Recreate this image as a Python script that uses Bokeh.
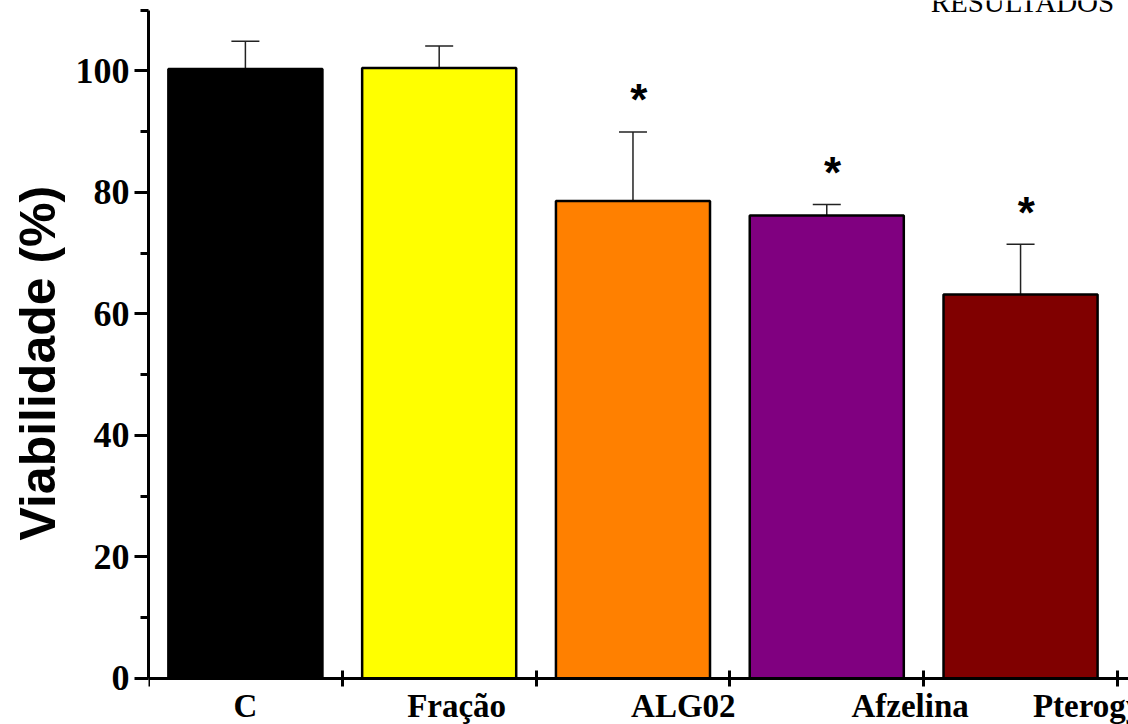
import math
from bokeh.plotting import figure
from bokeh.models import (Range1d, FixedTicker, Whisker, TeeHead, ColumnDataSource,
                          Label, Title)
from bokeh.core.properties import value
from bokeh.embed import file_html
from bokeh.resources import INLINE

# ---- data ----
categories = ["C", "Fração", "ALG02", "Afzelina", "Pterogynidina"]
means = [100.3, 100.5, 78.6, 76.2, 63.2]
sds = [4.6, 3.6, 11.35, 1.8, 8.25]
significant = [False, False, True, True, True]
bar_colors = ["#000000", "#FFFF00", "#FF8000", "#800080", "#800000"]
y_ticks = [0, 20, 40, 60, 80, 100]
y_minor_ticks = [10, 30, 50, 70, 90, 110]
y_title = "Viabilidade (%)"
header = "RESULTADOS"

# ---- layout helpers ----
xc = [i + 0.5 for i in range(len(categories))]
upper = [m + s for m, s in zip(means, sds)]

src = ColumnDataSource(dict(x=xc, mean=means, upper=upper, color=bar_colors))

p = figure(width=1128, height=724,
           x_range=Range1d(0, 5.057), y_range=Range1d(-7.62, 111.6),
           output_backend="svg", toolbar_location=None,
           min_border_left=147, min_border_right=0,
           min_border_top=0, min_border_bottom=0,
           background_fill_color="white", border_fill_color="white")
p.outline_line_color = None
p.xgrid.visible = False
p.ygrid.visible = False

# y axis
ya = p.yaxis[0]
ya.bounds = (0, 110)
ya.ticker = FixedTicker(ticks=y_ticks, minor_ticks=y_minor_ticks)
ya.axis_line_width = 3
ya.major_tick_line_width = 3
ya.minor_tick_line_width = 3
ya.major_tick_out = 14
ya.major_tick_in = 0
ya.minor_tick_out = 8
ya.minor_tick_in = 0
ya.major_label_standoff = 5
ya.major_label_text_font = "Liberation Serif"
ya.major_label_text_font_style = "bold"
ya.major_label_text_font_size = "36px"
ya.major_label_text_color = "black"

# y title as a side title
p.add_layout(Title(text=y_title, align="left", offset=184, standoff=14,
                   text_font="Liberation Sans", text_font_style="bold",
                   text_font_size="50px", text_color="black"), "left")

# x axis: fixed at y = 0, ticks at category boundaries
xa = p.xaxis[0]
xa.fixed_location = 0
xa.ticker = FixedTicker(ticks=list(range(len(categories) + 1)), minor_ticks=[])
xa.axis_line_width = 3
xa.major_tick_line_width = 3
xa.major_tick_in = 8
xa.major_tick_out = 8
xa.minor_tick_line_color = None
xa.major_label_overrides = {i: "" for i in range(len(categories) + 1)}
xa.major_label_text_font_size = "0px"
xa.major_label_standoff = 0

# bars
p.vbar(x="x", top="mean", bottom=0, width=0.795, fill_color="color",
       line_color="black", line_width=2.5, source=src)

# error bars (upper only)
p.add_layout(Whisker(source=src, base="x", lower="mean", upper="upper",
                     dimension="height", line_width=1.5, line_color="#222222",
                     upper_head=TeeHead(size=28, line_width=1.5, line_color="#222222"),
                     lower_head=None))

# significance asterisks
ax = [x + 0.03 for x, s in zip(xc, significant) if s]
ay = [u + 5.3 for u, s in zip(upper, significant) if s]
p.text(x=ax, y=ay, text=["*"] * len(ax), text_font=value("Liberation Sans"),
       text_font_style="bold", text_font_size="44px", text_align="center",
       text_baseline="alphabetic", text_color="black")

# category labels below the axis
label_dx = [0.0, 0.09, 0.26, 0.43]
n_c = len(label_dx)
p.text(x=[xc[i] + label_dx[i] for i in range(n_c)], y=[-4.5] * n_c,
       text=categories[:n_c], text_font=value("Liberation Serif"),
       text_font_style="bold", text_font_size="33px", text_align="center",
       text_baseline="alphabetic", text_color="black")
p.text(x=[xc[n_c] + 0.064], y=[-4.5], text=categories[n_c:],
       text_font=value("Liberation Serif"), text_font_style="bold",
       text_font_size="33px", text_align="left",
       text_baseline="alphabetic", text_color="black")

# page header
p.add_layout(Label(x=4.036, y=111.3, text=header, text_font="Liberation Serif",
                   text_font_size="29px", text_align="left",
                   text_baseline="alphabetic", text_color="black"))

open("out.html", "w").write(file_html(p, INLINE))
